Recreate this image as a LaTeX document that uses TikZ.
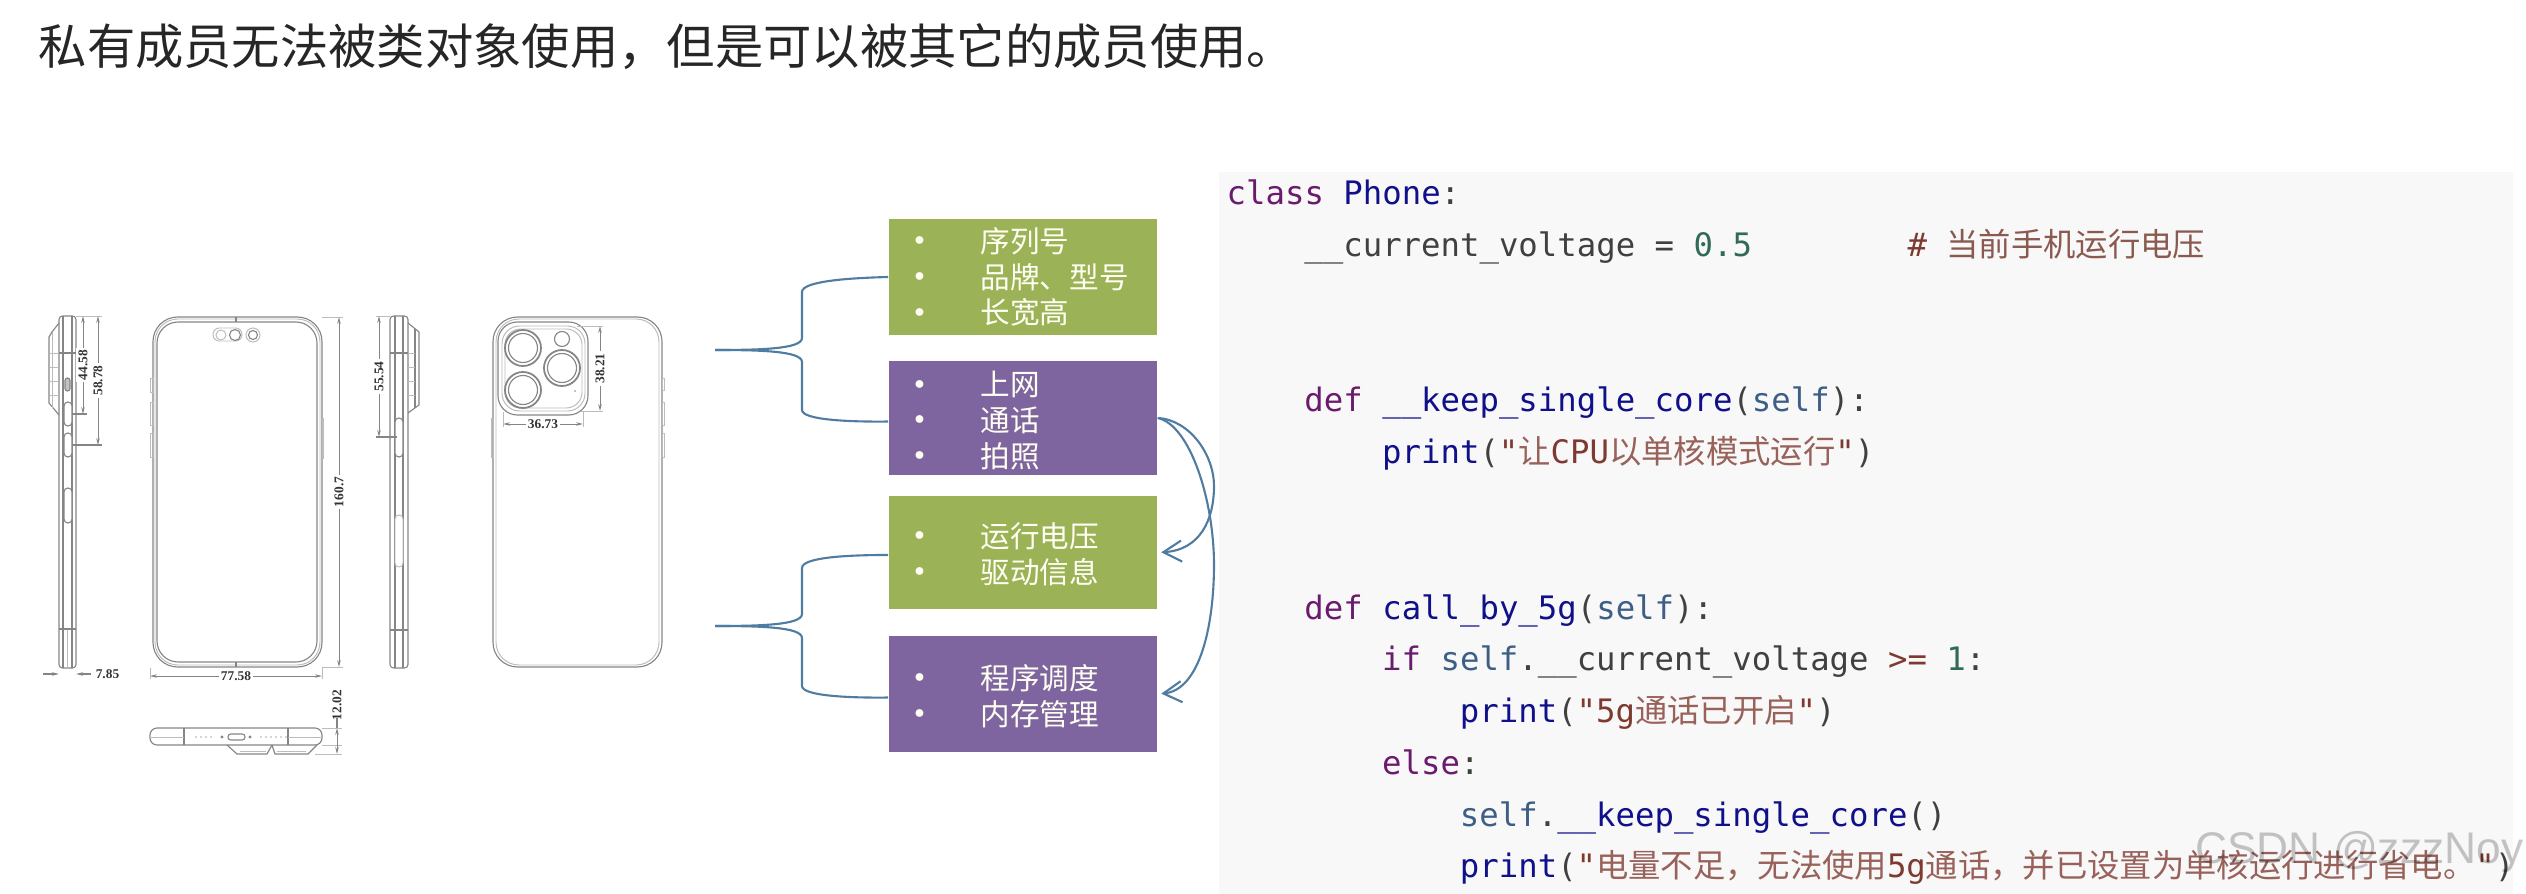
\documentclass[tikz,border=0pt]{standalone}
\usepackage{fontspec}
\usepackage{xcolor}
\usetikzlibrary{arrows.meta,calc}
\setmainfont{Liberation Sans}
\newfontfamily\cjk{Noto Sans CJK SC}
\newfontfamily\codefont{DejaVu Sans Mono}
\newfontfamily\dimfont{Liberation Serif}
\definecolor{boxgreen}{HTML}{9BB257}
\definecolor{boxpurple}{HTML}{7F659F}
\definecolor{linkblue}{HTML}{4F7CA0}
\definecolor{phonegray}{HTML}{858585}
\definecolor{codebg}{HTML}{F8F8F8}
\definecolor{kwcol}{HTML}{6A1B6E}
\definecolor{namecol}{HTML}{10108A}
\definecolor{selfcol}{HTML}{3E5F85}
\definecolor{numcol}{HTML}{2F6B58}
\definecolor{strcol}{HTML}{7E3A30}
\definecolor{cmtcol}{HTML}{8A5A50}
\newcommand{\kw}[1]{\textcolor{kwcol}{#1}}
\newcommand{\nm}[1]{\textcolor{namecol}{#1}}
\newcommand{\slf}[1]{\textcolor{selfcol}{#1}}
\newcommand{\num}[1]{\textcolor{numcol}{#1}}
\newcommand{\str}[1]{\textcolor{strcol}{#1}}
\newcommand{\zh}[1]{{\cjk\color{strcol!80}#1}}
\newcommand{\ind}[1]{\hspace*{#1\dimexpr 19.43\unitlength\relax}}
\newcommand{\bul}[1]{\makebox[22.6pt][l]{\raisebox{-0.7pt}{\fontsize{10.5}{10}\selectfont\textbullet}}{#1}}
\setlength{\unitlength}{0.2845pt}
\tikzset{
    phone/.style={draw=phonegray, line width=0.32pt},
    faint/.style={draw=phonegray!55, line width=0.28pt},
    dimline/.style={draw=phonegray, line width=0.25pt, {Stealth[length=2pt,width=1pt]}-{Stealth[length=2pt,width=1pt]}},
    dimtext/.style={fill=white, inner sep=0.6pt, font=\dimfont\bfseries\fontsize{3.8}{4}\selectfont, text=black!80},
    greenbox/.style={fill=boxgreen, minimum width=268*0.2845pt, inner sep=0pt},
    purplebox/.style={fill=boxpurple, minimum width=268*0.2845pt, inner sep=0pt},
    itemlist/.style={anchor=west, align=left, inner sep=0pt, text=white!95!yellow, font=\cjk\fontsize{8.42}{10.2}\selectfont},
    link/.style={draw=linkblue, line width=0.6pt},
    arrowlink/.style={link, shorten >=1pt, -{Straight Barb[length=5.2pt,width=6pt,line width=0.6pt]}}
}

\begin{document}
\begin{tikzpicture}[x=0.01cm, y=-0.01cm]
    \useasboundingbox (0,0) rectangle (2526,894);

    % Title
    \node (title) [anchor=west, inner sep=0pt, text=black!85, font=\cjk\fontsize{13.74}{16}\selectfont] at (38,47) {私有成员无法被类对象使用，但是可以被其它的成员使用。};

    % Left side view
    \draw [phone, rounded corners=1pt] (59,316) rectangle (76,668);
    \draw [phone] (63,316) -- (63,668);
    \draw [phone] (72,316) -- (72,668);
    \draw [faint] (67,629) -- (67,668);
    \draw [phone] (59,353) -- (76,353);
    \draw [phone] (59,629) -- (76,629);
    \draw [phone] (59,323) -- (52,332) -- (49,337) -- (49,403) -- (59,415);
    \draw [faint] (52,332) -- (52,408);
    \foreach \y in {353,367,381,395}
        \draw [faint] (50,\y) -- (59,\y);
    \foreach \ya/\yb in {402/426,433/457,488/523}
        \draw [phone, fill=white, rounded corners=1.1pt] (64,\ya) rectangle (72,\yb);
    \draw [phone, fill=phonegray!50, rounded corners=0.7pt] (65,378) rectangle (70,391);

    % Left side dimensions
    \draw [faint] (76,316) -- (102,316);
    \draw [phone] (72,414) -- (87,414);
    \draw [phone] (72,445) -- (102,445);
    \draw [dimline] (83,316) -- (83,414) node (dimA) [dimtext, pos=0.5, rotate=90] {44.58};
    \draw [dimline] (98,316) -- (98,445) node (dimB) [dimtext, pos=0.5, rotate=90] {58.78};
    \draw [phone, -{Stealth[length=2pt,width=1pt]}] (43,674) -- (59,674);
    \draw [phone, -{Stealth[length=2pt,width=1pt]}] (91,674) -- (76,674);
    \node (dimC) [dimtext, anchor=west, fill=none] at (93,674) {7.85};

    % Front view
    \draw [phone, rounded corners=7pt] (153,317) rectangle (322,667);
    \draw [faint, rounded corners=6.5pt] (155,319) rectangle (320,665);
    \draw [phone, rounded corners=6pt] (157,322) rectangle (317,662);
    \foreach \ya/\yb in {378/392,402/425,433/457}
        \draw [faint] (150.5,\ya) rectangle (153,\yb);
    \draw [faint] (322,418) rectangle (323.5,458);
    \draw [phone] (236,317) -- (236,322);
    \draw [phone] (236,662) -- (236,667);
    \draw [faint, rounded corners=1.8pt] (213,328) rectangle (242,341);
    \draw [faint] (221,335) circle (5);
    \draw [phone] (235,335) circle (5.5);
    \draw [faint] (253,335) circle (7);
    \draw [phone] (253,335) circle (4.5);

    % Front dimensions
    \draw [faint] (322,317) -- (343,317);
    \draw [faint] (322,667) -- (343,667);
    \draw [faint] (150,668) -- (150,679);
    \draw [faint] (322,668) -- (322,679);
    \draw [dimline] (339,317) -- (339,667) node (dimD) [dimtext, pos=0.5, rotate=90] {160.7};
    \draw [dimline] (150,676) -- (322,676) node (dimE) [dimtext, pos=0.5] {77.58};

    % Bottom view
    \draw [phone, rounded corners=2pt] (150,728) rectangle (322,745);
    \draw [phone] (184,728) -- (184,745);
    \draw [phone] (288,728) -- (288,745);
    \draw [faint] (150,737) -- (184,737);
    \draw [faint] (288,737) -- (322,737);
    \foreach \x in {196,201,206,211,261,266,271,276,281,286}
        \fill [phonegray!70] (\x,737) circle (0.9);
    \fill [phonegray] (222,737) circle (1.6);
    \fill [phonegray] (250,737) circle (1.6);
    \draw [phone, rounded corners=0.8pt] (228,734) rectangle (245,740);
    \draw [phone] (227,745) -- (237,754) -- (267,754) -- (272,745);
    \draw [phone] (272,745) -- (275,754) -- (308,754) -- (317,745);
    \draw [faint] (240,751) -- (266,751);
    \draw [faint] (277,751) -- (306,751);
    \draw [faint] (322,728) -- (342,728);
    \draw [faint] (322,745) -- (342,745);
    \draw [faint] (315,754) -- (342,754);
    \draw [dimline] (337,728) -- (337,754);
    \draw [phone] (337,718) -- (337,728);
    \node (dimF) [dimtext, rotate=90, fill=none] at (337,705) {12.02};

    % Right side view
    \draw [phone, rounded corners=1pt] (390,316) rectangle (408,668);
    \draw [phone] (395,316) -- (395,668);
    \draw [phone] (403,316) -- (403,668);
    \draw [phone] (390,353) -- (408,353);
    \draw [phone] (390,630) -- (408,630);
    \draw [phone] (408,323) -- (419,332) -- (419,405) -- (408,413);
    \draw [phone] (415,329) -- (415,408);
    \foreach \y in {353,367,381,395}
        \draw [faint] (408,\y) -- (415,\y);
    \draw [phone, fill=white, rounded corners=1.1pt] (395,418) rectangle (403,457);
    \draw [faint, fill=white, rounded corners=1.1pt] (395,515) rectangle (403,567);

    % Right side dimensions
    \draw [faint] (376,316) -- (390,316);
    \draw [phone] (376,437) -- (397,437);
    \draw [dimline] (379,316) -- (379,437) node (dimG) [dimtext, pos=0.5, rotate=90] {55.54};

    % Back view
    \draw [phone, rounded corners=7pt] (493,317) rectangle (662,667);
    \draw [faint, rounded corners=6.5pt] (496,319) rectangle (659,665);
    \draw [faint] (491,418) rectangle (493,457);
    \foreach \ya/\yb in {378/390,402/425,433/457}
        \draw [faint] (662,\ya) rectangle (664,\yb);

    % Camera module
    \draw [phone, rounded corners=5.5pt] (498,322) rectangle (588,415);
    \draw [faint, rounded corners=5pt] (502,326) rectangle (585,411);
    \draw [faint, rounded corners=4.5pt] (505,329) rectangle (582,408);
    \foreach \x/\y in {523/348,523/390,562/368} {
        \draw [phone, line width=0.5pt] (\x,\y) circle (18);
        \draw [phone] (\x,\y) circle (14.5);
    }
    \draw [phone] (562,339) circle (7.5);
    \fill [phonegray] (575,391) circle (0.8);

    % Camera dimensions
    \draw [faint] (577,326) -- (603,326);
    \draw [faint] (580,411) -- (603,411);
    \draw [faint] (503,412) -- (503,427);
    \draw [faint] (583,412) -- (583,427);
    \draw [dimline] (600,326) -- (600,411) node (dimH) [dimtext, pos=0.5, rotate=90] {38.21};
    \draw [dimline] (503,424) -- (583,424) node (dimI) [dimtext, pos=0.5] {36.73};

    % Boxes
    \node (idbox) [greenbox, minimum height=116*0.2845pt] at (1023,277) {};
    \node (funcbox) [purplebox, minimum height=114*0.2845pt] at (1023,418) {};
    \node (voltbox) [greenbox, minimum height=113*0.2845pt] at (1023,552.5) {};
    \node (corebox) [purplebox, minimum height=116*0.2845pt] at (1023,694) {};
    \node (idlist) [itemlist] at (900.5,277) {\bul{序列号}\\\bul{品牌、型号}\\\bul{长宽高}};
    \node (funclist) [itemlist] at (900.5,420.5) {\bul{上网}\\\bul{通话}\\\bul{拍照}};
    \node (voltlist) [itemlist] at (900.5,554) {\bul{运行电压}\\\bul{驱动信息}};
    \node (corelist) [itemlist] at (900.5,696) {\bul{程序调度}\\\bul{内存管理}};

    % Braces
    \coordinate (topfork) at (715,350);
    \coordinate (lowfork) at (715,626);
    \draw [link] (topfork) .. controls (760,350) and (802,349) .. (802,338) -- (802,292) .. controls (802,281) and (850,278) .. (idbox.west);
    \draw [link] (topfork) .. controls (760,350) and (802,351) .. (802,362) -- (802,410) .. controls (802,420) and (850,422) .. ([yshift=-1pt]funcbox.west);
    \draw [link] (lowfork) .. controls (760,626) and (802,625) .. (802,614) -- (802,568) .. controls (802,557) and (850,555) .. ([yshift=-0.7pt]voltbox.west);
    \draw [link] (lowfork) .. controls (760,626) and (802,627) .. (802,638) -- (802,686) .. controls (802,696) and (850,698) .. ([yshift=-1pt]corebox.west);

    % Curved arrows
    \draw [arrowlink] (funcbox.east) .. controls (1190,420) and (1214,455) .. (1214,486) .. controls (1214,520) and (1200,550) .. (voltbox.east);
    \draw [arrowlink] (funcbox.east) .. controls (1190,425) and (1214,500) .. (1214,565) .. controls (1214,625) and (1200,690) .. (corebox.east);

    % Code
    \fill [codebg] (1219,172) rectangle (2513,894);
    \node (codeblock) [anchor=north west, inner sep=0pt, align=left, font=\codefont\fontsize{9.19}{14.72}\selectfont, text=black!75] at (1226,179.5) {%
        \kw{class} \nm{Phone}:\\
        \ind{4}\_\_current\_voltage = \num{0.5}~~~~~~~~\textcolor{strcol}{\#} {\cjk\color{cmtcol}当前手机运行电压}\\
        ~\\
        ~\\
        \ind{4}\kw{def} \nm{\_\_keep\_single\_core}(\slf{self}):\\
        \ind{8}\nm{print}(\str{"}\zh{让}\str{CPU}\zh{以单核模式运行}\str{"})\\
        ~\\
        ~\\
        \ind{4}\kw{def} \nm{call\_by\_5g}(\slf{self}):\\
        \ind{8}\kw{if} \slf{self}.\_\_current\_voltage \str{>=} \num{1}:\\
        \ind{12}\nm{print}(\str{"5g}\zh{通话已开启}\str{"})\\
        \ind{8}\kw{else}:\\
        \ind{12}\slf{self}.\nm{\_\_keep\_single\_core}()\\
        \ind{12}\nm{print}(\str{"}\zh{电量不足，无法使用}\str{5g}\zh{通话，并已设置为单核运行进行省电。}\str{"})};

    % Watermark
    \node (watermark) [anchor=east, inner sep=0pt, text=black, opacity=0.22, font=\fontsize{12.6}{14}\selectfont] at (2524,852) {CSDN @zzzNoy};
\end{tikzpicture}
\end{document}
